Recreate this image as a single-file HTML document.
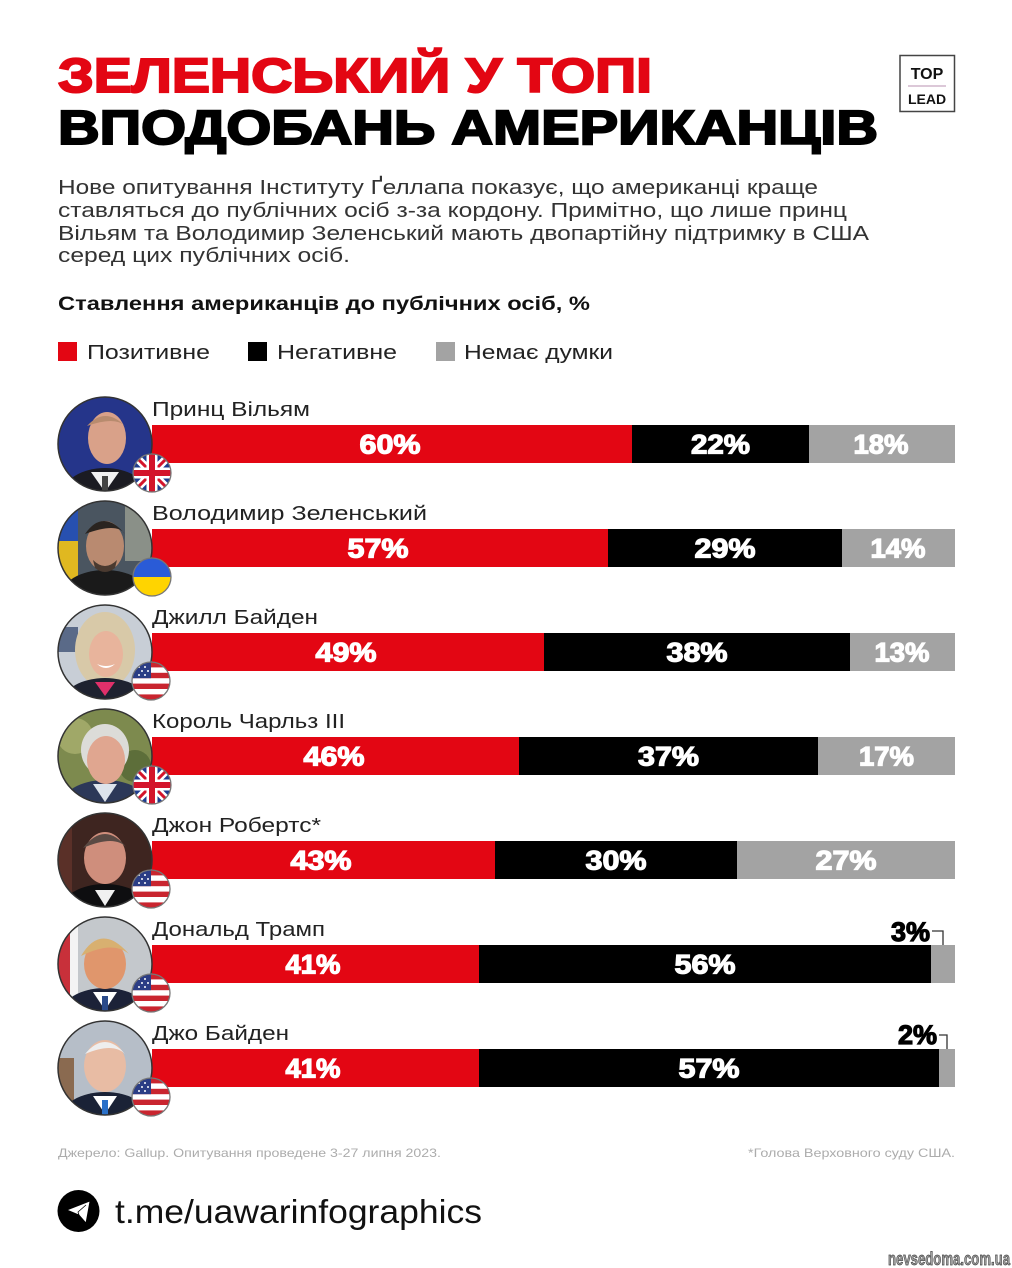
<!DOCTYPE html>
<html><head><meta charset="utf-8"><style>
html,body{margin:0;padding:0;background:#fff;}
svg{display:block;}
text{font-family:"Liberation Sans","DejaVu Sans",sans-serif;}
</style></head><body>
<svg width="1012" height="1268" viewBox="0 0 1012 1268" xmlns="http://www.w3.org/2000/svg">
<defs>
<clipPath id="fc"><circle r="19"/></clipPath>
<clipPath id="pc"><circle r="47"/></clipPath>
<g id="uk">
  <g clip-path="url(#fc)">
    <rect x="-20" y="-20" width="40" height="40" fill="#1f3c8e"/>
    <path d="M-20,-20L20,20M20,-20L-20,20" stroke="#fff" stroke-width="8"/>
    <path d="M-20,-20L20,20M20,-20L-20,20" stroke="#d3142b" stroke-width="3"/>
    <path d="M0,-20V20M-20,0H20" stroke="#fff" stroke-width="11"/>
    <path d="M0,-20V20M-20,0H20" stroke="#d3142b" stroke-width="6"/>
  </g>
  <circle r="19" fill="none" stroke="#777" stroke-width="1.3"/>
</g>
<g id="ua">
  <g clip-path="url(#fc)">
    <rect x="-20" y="-20" width="40" height="20" fill="#2a5bd7"/>
    <rect x="-20" y="0" width="40" height="20" fill="#ffd400"/>
  </g>
  <circle r="19" fill="none" stroke="#777" stroke-width="1.3"/>
</g>
<g id="us">
  <g clip-path="url(#fc)">
    <rect x="-20" y="-20" width="40" height="40" fill="#fff"/>
    <rect x="-20" y="-19" width="40" height="5.4" fill="#c9252f"/>
    <rect x="-20" y="-8.2" width="40" height="5.4" fill="#c9252f"/>
    <rect x="-20" y="2.6" width="40" height="5.4" fill="#c9252f"/>
    <rect x="-20" y="13.4" width="40" height="5.6" fill="#c9252f"/>
    <rect x="-20" y="-20" width="20" height="17.2" fill="#2b3d85"/>
    <g fill="#fff"><circle cx="-12" cy="-14" r="1"/><circle cx="-6" cy="-14" r="1"/><circle cx="-9" cy="-10" r="1"/><circle cx="-3" cy="-10" r="1"/><circle cx="-12" cy="-6" r="1"/><circle cx="-6" cy="-6" r="1"/></g>
  </g>
  <circle r="19" fill="none" stroke="#777" stroke-width="1.3"/>
</g>
</defs>

<!-- Title -->
<text x="58" y="92" font-size="48" font-weight="bold" fill="#e30613" stroke="#e30613" stroke-width="2" textLength="594" lengthAdjust="spacingAndGlyphs">ЗЕЛЕНСЬКИЙ У ТОПІ</text>
<text x="58" y="144" font-size="48" font-weight="bold" fill="#000" stroke="#000" stroke-width="2" textLength="820" lengthAdjust="spacingAndGlyphs">ВПОДОБАНЬ АМЕРИКАНЦІВ</text>

<!-- TOP LEAD logo -->
<rect x="900" y="55.5" width="54.5" height="56" fill="#fff" stroke="#444" stroke-width="1.5"/>
<text x="927" y="79" font-size="16" font-weight="bold" fill="#111" text-anchor="middle">TOP</text>
<line x1="908" y1="86" x2="946" y2="86" stroke="#c8a8c0" stroke-width="1.2"/>
<text x="927" y="104" font-size="14" fill="#111" text-anchor="middle" font-weight="bold">LEAD</text>

<!-- Paragraph -->
<g font-size="20" fill="#333">
<text x="58" y="194" textLength="760" lengthAdjust="spacingAndGlyphs">Нове опитування Інституту Ґеллапа показує, що американці краще</text>
<text x="58" y="217" textLength="789" lengthAdjust="spacingAndGlyphs">ставляться до публічних осіб з-за кордону. Примітно, що лише принц</text>
<text x="58" y="240" textLength="811" lengthAdjust="spacingAndGlyphs">Вільям та Володимир Зеленський мають двопартійну підтримку в США</text>
<text x="58" y="262" textLength="292" lengthAdjust="spacingAndGlyphs">серед цих публічних осіб.</text>
</g>

<text x="58" y="310" font-size="19" font-weight="bold" fill="#111" textLength="532" lengthAdjust="spacingAndGlyphs">Ставлення американців до публічних осіб, %</text>

<!-- Legend -->
<rect x="58" y="342" width="19" height="19" fill="#e30613"/>
<text x="87" y="359" font-size="20" fill="#222" textLength="123" lengthAdjust="spacingAndGlyphs">Позитивне</text>
<rect x="248" y="342" width="19" height="19" fill="#000"/>
<text x="277" y="359" font-size="20" fill="#222" textLength="120" lengthAdjust="spacingAndGlyphs">Негативне</text>
<rect x="436" y="342" width="19" height="19" fill="#a3a3a3"/>
<text x="464" y="359" font-size="20" fill="#222" textLength="149" lengthAdjust="spacingAndGlyphs">Немає думки</text>

<!-- Names -->
<g font-size="20" fill="#222">
<text x="152" y="416" textLength="158" lengthAdjust="spacingAndGlyphs">Принц Вільям</text>
<text x="152" y="520" textLength="275" lengthAdjust="spacingAndGlyphs">Володимир Зеленський</text>
<text x="152" y="624" textLength="166" lengthAdjust="spacingAndGlyphs">Джилл Байден</text>
<text x="152" y="728" textLength="193" lengthAdjust="spacingAndGlyphs">Король Чарльз ІІІ</text>
<text x="152" y="832" textLength="169" lengthAdjust="spacingAndGlyphs">Джон Робертс*</text>
<text x="152" y="936" textLength="173" lengthAdjust="spacingAndGlyphs">Дональд Трамп</text>
<text x="152" y="1040" textLength="137" lengthAdjust="spacingAndGlyphs">Джо Байден</text>
</g>

<!-- Bars -->
<g>
<rect x="152" y="425" width="480" height="38" fill="#e30613"/><rect x="632" y="425" width="177" height="38" fill="#000"/><rect x="809" y="425" width="146" height="38" fill="#a3a3a3"/>
<rect x="152" y="529" width="456" height="38" fill="#e30613"/><rect x="608" y="529" width="234" height="38" fill="#000"/><rect x="842" y="529" width="113" height="38" fill="#a3a3a3"/>
<rect x="152" y="633" width="392" height="38" fill="#e30613"/><rect x="544" y="633" width="306" height="38" fill="#000"/><rect x="850" y="633" width="105" height="38" fill="#a3a3a3"/>
<rect x="152" y="737" width="367" height="38" fill="#e30613"/><rect x="519" y="737" width="299" height="38" fill="#000"/><rect x="818" y="737" width="137" height="38" fill="#a3a3a3"/>
<rect x="152" y="841" width="343" height="38" fill="#e30613"/><rect x="495" y="841" width="242" height="38" fill="#000"/><rect x="737" y="841" width="218" height="38" fill="#a3a3a3"/>
<rect x="152" y="945" width="327" height="38" fill="#e30613"/><rect x="479" y="945" width="452" height="38" fill="#000"/><rect x="931" y="945" width="24" height="38" fill="#a3a3a3"/>
<rect x="152" y="1049" width="327" height="38" fill="#e30613"/><rect x="479" y="1049" width="460" height="38" fill="#000"/><rect x="939" y="1049" width="16" height="38" fill="#a3a3a3"/>
</g>

<!-- Bar labels -->
<g font-size="27" font-weight="bold" fill="#fff" stroke="#fff" stroke-width="1.2" text-anchor="middle">
<text x="390" y="453.5" textLength="61" lengthAdjust="spacingAndGlyphs">60%</text>
<text x="720.5" y="453.5" textLength="59" lengthAdjust="spacingAndGlyphs">22%</text>
<text x="881" y="453.5" textLength="55" lengthAdjust="spacingAndGlyphs">18%</text>
<text x="378" y="557.5" textLength="61" lengthAdjust="spacingAndGlyphs">57%</text>
<text x="725" y="557.5" textLength="61" lengthAdjust="spacingAndGlyphs">29%</text>
<text x="898" y="557.5" textLength="55" lengthAdjust="spacingAndGlyphs">14%</text>
<text x="346" y="661.5" textLength="61" lengthAdjust="spacingAndGlyphs">49%</text>
<text x="697" y="661.5" textLength="61" lengthAdjust="spacingAndGlyphs">38%</text>
<text x="902" y="661.5" textLength="55" lengthAdjust="spacingAndGlyphs">13%</text>
<text x="334" y="765.5" textLength="61" lengthAdjust="spacingAndGlyphs">46%</text>
<text x="668.5" y="765.5" textLength="61" lengthAdjust="spacingAndGlyphs">37%</text>
<text x="886.5" y="765.5" textLength="55" lengthAdjust="spacingAndGlyphs">17%</text>
<text x="321" y="869.5" textLength="61" lengthAdjust="spacingAndGlyphs">43%</text>
<text x="616" y="869.5" textLength="61" lengthAdjust="spacingAndGlyphs">30%</text>
<text x="846" y="869.5" textLength="61" lengthAdjust="spacingAndGlyphs">27%</text>
<text x="313" y="973.5" textLength="55" lengthAdjust="spacingAndGlyphs">41%</text>
<text x="705" y="973.5" textLength="61" lengthAdjust="spacingAndGlyphs">56%</text>
<text x="313" y="1077.5" textLength="55" lengthAdjust="spacingAndGlyphs">41%</text>
<text x="709" y="1077.5" textLength="61" lengthAdjust="spacingAndGlyphs">57%</text>
</g>

<!-- small outside labels -->
<text x="930" y="941" font-size="27" font-weight="bold" fill="#000" stroke="#000" stroke-width="1.2" text-anchor="end">3%</text>
<path d="M932,931H943V945" fill="none" stroke="#333" stroke-width="1.3"/>
<text x="937" y="1044" font-size="27" font-weight="bold" fill="#000" stroke="#000" stroke-width="1.2" text-anchor="end">2%</text>
<path d="M939,1035H947V1049" fill="none" stroke="#333" stroke-width="1.3"/>

<!-- Photos -->
<g transform="translate(105,444)"><g clip-path="url(#pc)">
  <circle r="47" fill="#25358a"/>
  <ellipse cx="0" cy="50" rx="42" ry="26" fill="#1b1b22"/>
  <path d="M-14,28 L0,48 L14,28 Z" fill="#f2f2f2"/>
  <rect x="-3" y="32" width="6" height="16" fill="#444"/>
  <ellipse cx="2" cy="-6" rx="19" ry="26" fill="#d9a189"/>
  <path d="M-18,-18 Q0,-38 20,-18 Q10,-28 -18,-18Z" fill="#b88b6e"/>
</g><circle r="47" fill="none" stroke="#333" stroke-width="1.5"/></g>
<use href="#uk" x="152" y="473"/>

<g transform="translate(105,548)"><g clip-path="url(#pc)">
  <circle r="47" fill="#4a5560"/>
  <rect x="-47" y="-47" width="20" height="40" fill="#2750b0"/>
  <rect x="-47" y="-7" width="20" height="50" fill="#e0b820"/>
  <rect x="20" y="-47" width="30" height="60" fill="#8a9088"/>
  <ellipse cx="0" cy="48" rx="44" ry="26" fill="#1a1a1a"/>
  <ellipse cx="0" cy="-2" rx="19" ry="25" fill="#b98a70"/>
  <path d="M-20,-14 Q-2,-40 20,-14 Q12,-26 -20,-14Z" fill="#2a2420"/>
  <path d="M-12,12 Q0,24 12,12 L10,20 Q0,28 -10,20Z" fill="#4a3a30"/>
</g><circle r="47" fill="none" stroke="#333" stroke-width="1.5"/></g>
<use href="#ua" x="152" y="577"/>

<g transform="translate(105,652)"><g clip-path="url(#pc)">
  <circle r="47" fill="#c8ced6"/>
  <rect x="-47" y="-25" width="20" height="25" fill="#5a6a88"/>
  <ellipse cx="0" cy="-2" rx="30" ry="38" fill="#d8c9a8"/>
  <ellipse cx="0" cy="50" rx="42" ry="24" fill="#1e2230"/>
  <path d="M-10,30 L0,44 L10,30Z" fill="#e0306a"/>
  <ellipse cx="1" cy="2" rx="17" ry="23" fill="#e8b49c"/>
  <path d="M-8,12 Q1,20 10,12 Q1,16 -8,12Z" fill="#fff"/>
</g><circle r="47" fill="none" stroke="#333" stroke-width="1.5"/></g>
<use href="#us" x="151" y="681"/>

<g transform="translate(105,756)"><g clip-path="url(#pc)">
  <circle r="47" fill="#7d8a4e"/>
  <circle cx="-30" cy="-20" r="18" fill="#a0a868"/>
  <circle cx="30" cy="10" r="16" fill="#5d6e3a"/>
  <ellipse cx="0" cy="50" rx="44" ry="26" fill="#2c3858"/>
  <path d="M-12,28 L0,46 L12,28Z" fill="#dde4ec"/>
  <ellipse cx="0" cy="-6" rx="24" ry="26" fill="#dcdcd8"/>
  <ellipse cx="1" cy="4" rx="19" ry="24" fill="#e0a690"/>
</g><circle r="47" fill="none" stroke="#333" stroke-width="1.5"/></g>
<use href="#uk" x="152" y="785"/>

<g transform="translate(105,860)"><g clip-path="url(#pc)">
  <circle r="47" fill="#3e2520"/>
  <rect x="-47" y="-47" width="14" height="94" fill="#5a3028"/>
  <ellipse cx="0" cy="50" rx="44" ry="26" fill="#0e0e10"/>
  <path d="M-10,30 L0,46 L10,30Z" fill="#f0f0f0"/>
  <ellipse cx="0" cy="-2" rx="21" ry="26" fill="#cf8e7c"/>
  <path d="M-22,-12 Q0,-40 22,-12 Q10,-26 -22,-12Z" fill="#5a4a44"/>
</g><circle r="47" fill="none" stroke="#333" stroke-width="1.5"/></g>
<use href="#us" x="151" y="889"/>

<g transform="translate(105,964)"><g clip-path="url(#pc)">
  <circle r="47" fill="#c4c8cc"/>
  <rect x="-47" y="-47" width="12" height="80" fill="#c8303a"/>
  <rect x="-35" y="-47" width="8" height="80" fill="#f4f4f4"/>
  <ellipse cx="0" cy="50" rx="44" ry="26" fill="#1c2238"/>
  <path d="M-12,28 L0,46 L12,28Z" fill="#fff"/>
  <rect x="-3" y="32" width="6" height="16" fill="#2a4a8a"/>
  <ellipse cx="0" cy="0" rx="21" ry="25" fill="#e0966c"/>
  <path d="M-24,-8 Q-4,-42 24,-10 Q8,-24 -24,-8Z" fill="#d8b070"/>
</g><circle r="47" fill="none" stroke="#333" stroke-width="1.5"/></g>
<use href="#us" x="151" y="993"/>

<g transform="translate(105,1068)"><g clip-path="url(#pc)">
  <circle r="47" fill="#b6bec8"/>
  <rect x="-47" y="-10" width="16" height="50" fill="#8a6a50"/>
  <ellipse cx="0" cy="50" rx="44" ry="26" fill="#1a2236"/>
  <path d="M-12,28 L0,46 L12,28Z" fill="#fff"/>
  <rect x="-3" y="32" width="6" height="16" fill="#2a70c8"/>
  <ellipse cx="0" cy="-2" rx="21" ry="26" fill="#e8bca4"/>
  <path d="M-20,-14 Q0,-38 20,-14 Q8,-26 -20,-14Z" fill="#eeeeee"/>
</g><circle r="47" fill="none" stroke="#333" stroke-width="1.5"/></g>
<use href="#us" x="151" y="1097"/>

<!-- Footer -->
<text x="58" y="1157" font-size="12" fill="#acacac" textLength="383" lengthAdjust="spacingAndGlyphs">Джерело: Gallup. Опитування проведене 3-27 липня 2023.</text>
<text x="748" y="1157" font-size="12" fill="#acacac" textLength="207" lengthAdjust="spacingAndGlyphs">*Голова Верховного суду США.</text>

<circle cx="78.5" cy="1211" r="21" fill="#000"/>
<path d="M67,1210 L90,1201 L86,1223 L79,1215 Z M79,1215 L78,1212 L86,1205" fill="#fff" stroke="#000" stroke-width="0.8" stroke-linejoin="round"/>
<text x="115" y="1223" font-size="33" fill="#111" textLength="367" lengthAdjust="spacingAndGlyphs">t.me/uawarinfographics</text>

<text x="888" y="1265" font-size="18" font-weight="bold" fill="#a0a0a0" stroke="#444" stroke-width="0.7" textLength="122" lengthAdjust="spacingAndGlyphs">nevsedoma.com.ua</text>
</svg>
</body></html>
